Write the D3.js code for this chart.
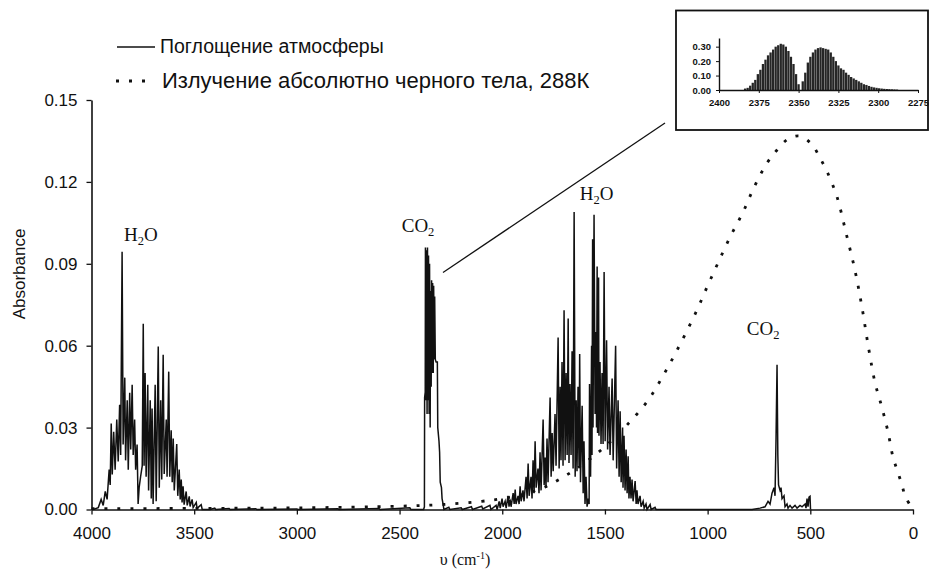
<!DOCTYPE html>
<html><head><meta charset="utf-8">
<script src="https://cdn.jsdelivr.net/npm/d3@7"></script>
<style>
body{margin:0;background:#fff}
svg{display:block}
text{font-family:"Liberation Sans",Arial,sans-serif;fill:#111}
.serif{font-family:"Liberation Serif","Times New Roman",serif}
</style>
</head><body>
<svg id="c" width="929" height="572"></svg>
<script>
// ---------- DATA (wavenumber cm-1, absorbance) ----------
const xTicks = [4000,3500,3000,2500,2000,1500,1000,500,0];
const yTicks = [0,0.03,0.06,0.09,0.12,0.15];
const insetXTicks = [2400,2375,2350,2325,2300,2275];
const insetYTicks = [0,0.1,0.2,0.3];

const h2oStretch = [[3992,0],[3967,0.0007],[3953,0.0037],[3943,0.0015],[3933,0.0066],[3924,0.0037],[3914,0.0146],[3909,0.009],[3904,0.0315],[3899,0.0128],[3892,0.0285],[3885,0.0146],[3877,0.033],[3870,0.0176],[3863,0.0384],[3858,0.020],[3851,0.0944],[3846,0.0238],[3838,0.0483],[3834,0.018],[3826,0.040],[3821,0.0146],[3814,0.0428],[3809,0.022],[3802,0.0457],[3797,0.020],[3790,0.033],[3785,0.0146],[3778,0.0238],[3773,0.002],[3768,0.008],[3761,0.012],[3753,0.016],[3748,0.068],[3744,0.016],[3739,0.050],[3734,0.012],[3726,0.0457],[3722,0.007],[3714,0.040],[3709,0.004],[3705,0.037],[3700,0.002],[3690,0.0457],[3685,0.003],[3675,0.0597],[3670,0.008],[3663,0.040],[3658,0.011],[3651,0.0567],[3646,0.013],[3636,0.033],[3632,0.012],[3624,0.0505],[3619,0.012],[3612,0.029],[3607,0.010],[3602,0.026],[3597,0.007],[3585,0.024],[3580,0.005],[3573,0.0146],[3568,0.0037],[3563,0.011],[3559,0.0026],[3554,0.0085],[3549,0.0018],[3539,0.0066],[3534,0.0015],[3524,0.0048],[3520,0.0011],[3510,0.0037],[3505,0.0007],[3490,0.0026],[3486,0.0004],[3466,0.0018],[3461,0],[3422,0]];

const gap1 = [[3400,0.0005],[3395,0],[3330,0.0004],[3325,0],[3200,0.0003],[3195,0],[3000,0.0002],[2995,0],[2800,0.0003],[2795,0],[2600,0.0004],[2595,0],[2450,0.0006],[2445,0]];

const co2Stretch = [[2383,0],[2379,0.001],[2378,0.041],[2375,0.043],[2374,0.096],[2371,0.040],[2369,0.095],[2366,0.035],[2364,0.096],[2361,0.040],[2359,0.093],[2356,0.035],[2354,0.090],[2351,0.030],[2349,0.080],[2346,0.045],[2344,0.084],[2341,0.050],[2339,0.083],[2336,0.050],[2334,0.082],[2331,0.055],[2329,0.078],[2326,0.055],[2322,0.054],[2316,0.054],[2314,0.030],[2308,0.025],[2305,0.021],[2302,0.010],[2296,0.008],[2293,0.004],[2288,0.002],[2284,0]];

const gap2 = [[2260,0.0008],[2255,0],[2200,0.0006],[2195,0],[2150,0.001],[2145,0],[2100,0.0012],[2095,0.0002],[2060,0.0015],[2055,0]];

const h2oBend = [[2030,0.0015],[2025,0],[2015,0.003],[2010,0.0005],[2001,0.004],[1996,0.001],[1986,0.003],[1981,0.0005],[1972,0.005],[1967,0.001],[1962,0.0037],[1957,0.001],[1947,0.006],[1942,0.002],[1937,0.0073],[1933,0.002],[1923,0.005],[1918,0.002],[1913,0.0085],[1908,0.003],[1899,0.007],[1894,0.003],[1884,0.012],[1879,0.004],[1874,0.0168],[1869,0.005],[1860,0.012],[1855,0.004],[1850,0.018],[1845,0.006],[1840,0.025],[1835,0.008],[1826,0.015],[1821,0.006],[1816,0.021],[1811,0.007],[1801,0.033],[1796,0.009],[1791,0.019],[1787,0.008],[1782,0.026],[1777,0.010],[1767,0.041],[1762,0.012],[1757,0.028],[1752,0.014],[1743,0.035],[1738,0.016],[1728,0.063],[1723,0.015],[1718,0.045],[1714,0.018],[1709,0.054],[1704,0.016],[1699,0.073],[1694,0.018],[1689,0.050],[1684,0.020],[1679,0.070],[1675,0.017],[1670,0.046],[1665,0.020],[1660,0.058],[1655,0.015],[1650,0.109],[1645,0.012],[1640,0.040],[1636,0.014],[1631,0.045],[1626,0.016],[1623,0.057],[1619,0.010],[1611,0.038],[1606,0.006],[1602,0.025],[1597,0.002],[1592,0.012],[1587,0.001],[1582,0.004],[1577,0.002],[1575,0.046],[1570,0.012],[1565,0.060],[1563,0.020],[1560,0.099],[1558,0.030],[1553,0.108],[1548,0.035],[1543,0.065],[1541,0.030],[1538,0.089],[1536,0.028],[1531,0.085],[1529,0.027],[1524,0.054],[1519,0.024],[1514,0.050],[1509,0.024],[1504,0.087],[1499,0.025],[1492,0.062],[1487,0.022],[1480,0.045],[1475,0.020],[1465,0.048],[1460,0.018],[1448,0.060],[1443,0.015],[1436,0.040],[1431,0.012],[1426,0.036],[1421,0.010],[1414,0.030],[1412,0.008],[1407,0.027],[1402,0.007],[1397,0.022],[1392,0.006],[1387,0.0195],[1383,0.004],[1378,0.012],[1373,0.004],[1368,0.011],[1363,0.003],[1353,0.0104],[1348,0.002],[1344,0.007],[1339,0.002],[1329,0.005],[1324,0.001],[1314,0.003],[1309,0.0005],[1300,0.002],[1295,0],[1280,0.0018],[1275,0],[1256,0.0008],[1251,0]];

const gap3 = [[1200,0],[800,0]];

const co2Bend = [[783.7,0],[744.8,0.0005],[720.5,0.001],[705.9,0.003],[696.1,0.002],[686.4,0.006],[676.7,0.008],[671.8,0.005],[666.9,0.026],[662.0,0.053],[658.2,0.020],[654.7,0.009],[647.4,0.007],[642.6,0.008],[637.7,0.004],[628.0,0.005],[623.1,0.001],[613.4,0.002],[608.5,0.0005],[598.8,0.0015],[589.0,0.0005],[574.4,0.0015],[564.7,0.0005],[550.1,0.0015],[540.3,0.001],[525.7,0.002],[520.9,0.0005],[516.0,0.004],[511.1,0.001],[506.3,0.0045],[501.4,0.0048],[499,0]];

const blackbody = [[4000,0.0003],[3500,0.0004],[3000,0.0006],[2500,0.0012],[2300,0.0018],[2100,0.003],[2000,0.004],[1900,0.0055],[1800,0.008],[1700,0.012],[1600,0.017],[1500,0.023],[1392,0.031],[1290,0.040],[1217,0.049],[1148,0.0585],[1056,0.0724],[1002,0.0816],[949,0.0904],[890,0.0999],[827,0.109],[774,0.118],[710,0.127],[662,0.1317],[608,0.1357],[550,0.1368],[491,0.1336],[453,0.1288],[418,0.1237],[370,0.1145],[326,0.1013],[282,0.0874],[248,0.0739],[219,0.0604],[185,0.0465],[151,0.0373],[122,0.0285],[97,0.019],[78,0.0146],[54,0.0091],[39,0.0051],[10,0.0011],[0,0]];

const insetLines = [[2383.6,0.01],[2382.0,0.015],[2380.4,0.03],[2378.8,0.05],[2377.2,0.07],[2375.6,0.11],[2374.0,0.14],[2372.4,0.18],[2370.8,0.21],[2369.2,0.24],[2367.6,0.26],[2366.0,0.28],[2364.4,0.30],[2362.8,0.31],[2361.2,0.32],[2359.6,0.315],[2358.0,0.30],[2356.4,0.27],[2354.8,0.23],[2353.2,0.18],[2351.6,0.11],[2350.0,0.04],[2347.4,0.06],[2345.8,0.12],[2344.2,0.19],[2342.6,0.23],[2341.0,0.26],[2339.4,0.28],[2337.8,0.29],[2336.2,0.295],[2334.6,0.29],[2333.0,0.285],[2331.4,0.28],[2329.8,0.26],[2328.2,0.23],[2326.6,0.20],[2325.0,0.17],[2323.4,0.15],[2321.8,0.14],[2320.2,0.12],[2318.6,0.105],[2317.0,0.09],[2315.4,0.08],[2313.8,0.07],[2312.2,0.06],[2310.6,0.05],[2309.0,0.04],[2307.4,0.035],[2305.8,0.028],[2304.2,0.022],[2302.6,0.018],[2301.0,0.015],[2299.4,0.012],[2297.8,0.01],[2296.2,0.008],[2294.6,0.007],[2293.0,0.006],[2291.4,0.005],[2289.8,0.004],[2288.2,0.003]];

const legendLabels = ["Поглощение атмосферы","Излучение абсолютно черного тела, 288К"];
const bandLabels = [
  {wn:3760, a:0.0985, mol:["H","2","O"]},
  {wn:2410, a:0.1015, mol:["CO","2",""]},
  {wn:1540, a:0.1135, mol:["H","2","O"]},
  {wn:730,  a:0.064, mol:["CO","2",""]}
];

// ---------- CHART ----------
const svg = d3.select('#c');
const x = d3.scaleLinear().domain([4000,0]).range([91.5,913]);
const y = d3.scaleLinear().domain([0,0.15]).range([509.5,100]);

// axes
const xAxis = svg.append('g').attr('transform',`translate(0,${y(0)})`)
  .call(d3.axisBottom(x).tickValues(xTicks).tickFormat(d3.format('d')).tickSize(5).tickSizeOuter(0).tickPadding(12));
const yAxis = svg.append('g').attr('transform',`translate(${x(4000)},0)`)
  .call(d3.axisLeft(y).tickValues(yTicks).tickFormat(d3.format('.2f')).tickSize(5).tickSizeOuter(0).tickPadding(9));
[xAxis,yAxis].forEach(g=>{
  g.select('.domain').attr('stroke','#111').attr('stroke-width',1.6);
  g.selectAll('.tick line').attr('stroke','#111').attr('stroke-width',1.3);
  g.selectAll('.tick text').attr('font-size',17).attr('fill','#222').style('font-family','"Liberation Sans",Arial,sans-serif');
});

// axis titles
svg.append('text').attr('transform','translate(25,274) rotate(-90)').attr('text-anchor','middle')
  .attr('font-size',17).text('Absorbance');
const xt = svg.append('text').attr('class','serif').attr('x',465).attr('y',565).attr('text-anchor','middle').attr('font-size',16);
xt.append('tspan').text('υ (cm');
xt.append('tspan').attr('font-size',10).attr('dy',-6).text('-1');
xt.append('tspan').attr('dy',6).text(')');

// blackbody dotted
const line = d3.line().x(d=>x(d[0])).y(d=>y(d[1]));
svg.append('path').datum(blackbody)
  .attr('d', line.curve(d3.curveCatmullRom))
  .attr('fill','none').attr('stroke','#111').attr('stroke-width',2.8).attr('stroke-dasharray','3,10');

// absorption spectrum
const spectrum = [].concat(h2oStretch, gap1, co2Stretch, gap2, h2oBend, gap3, co2Bend);
svg.append('path').datum(spectrum)
  .attr('d', d3.line().x(d=>x(d[0])).y(d=>y(d[1]))(spectrum))
  .attr('fill','none').attr('stroke','#111').attr('stroke-width',1.5).attr('stroke-linejoin','miter');

// band labels
bandLabels.forEach(b=>{
  const t = svg.append('text').attr('class','serif').attr('x',x(b.wn)).attr('y',y(b.a))
    .attr('text-anchor','middle').attr('font-size',19);
  t.append('tspan').text(b.mol[0]);
  t.append('tspan').attr('font-size',12.5).attr('dy',4).text(b.mol[1]);
  if (b.mol[2]) t.append('tspan').attr('dy',-4).text(b.mol[2]);
});

// legend
svg.append('line').attr('x1',117).attr('x2',155).attr('y1',47).attr('y2',47).attr('stroke','#111').attr('stroke-width',1.5);
svg.append('text').attr('x',160).attr('y',53).attr('font-size',19.5).text(legendLabels[0]);
svg.append('line').attr('x1',116).attr('x2',152).attr('y1',81).attr('y2',81).attr('stroke','#111').attr('stroke-width',3).attr('stroke-dasharray','3,10');
svg.append('text').attr('x',162).attr('y',88).attr('font-size',22).text(legendLabels[1]);

// connector line
svg.append('line').attr('x1',443).attr('y1',272.5).attr('x2',665).attr('y2',123).attr('stroke','#111').attr('stroke-width',1.3);

// inset
svg.append('rect').attr('x',676).attr('y',10.5).attr('width',252).attr('height',119.5)
  .attr('fill','#fff').attr('stroke','#111').attr('stroke-width',1.8);
const xi = d3.scaleLinear().domain([2400,2275]).range([719,918]);
const yi = d3.scaleLinear().domain([0,0.36]).range([90,38]);
svg.append('g').selectAll('line').data(insetLines).join('line')
  .attr('x1',d=>xi(d[0])).attr('x2',d=>xi(d[0]))
  .attr('y1',yi(0)).attr('y2',d=>yi(d[1]))
  .attr('stroke','#262626').attr('stroke-width',2.3);
const ixa = svg.append('g').attr('transform',`translate(0,${yi(0)})`)
  .call(d3.axisBottom(xi).tickValues(insetXTicks).tickFormat(d3.format('d')).tickSize(3).tickSizeOuter(0).tickPadding(6));
const iya = svg.append('g').attr('transform',`translate(${xi(2400)},0)`)
  .call(d3.axisLeft(yi).tickValues(insetYTicks).tickFormat(d3.format('.2f')).tickSize(3).tickSizeOuter(0).tickPadding(5));
[ixa,iya].forEach(g=>{
  g.select('.domain').attr('stroke','#111').attr('stroke-width',1.4);
  g.selectAll('.tick line').attr('stroke','#111');
  g.selectAll('.tick text').attr('font-size',9.5).attr('font-weight','bold').attr('fill','#222').style('font-family','"Liberation Sans",Arial,sans-serif');
});
</script>
</body></html>
